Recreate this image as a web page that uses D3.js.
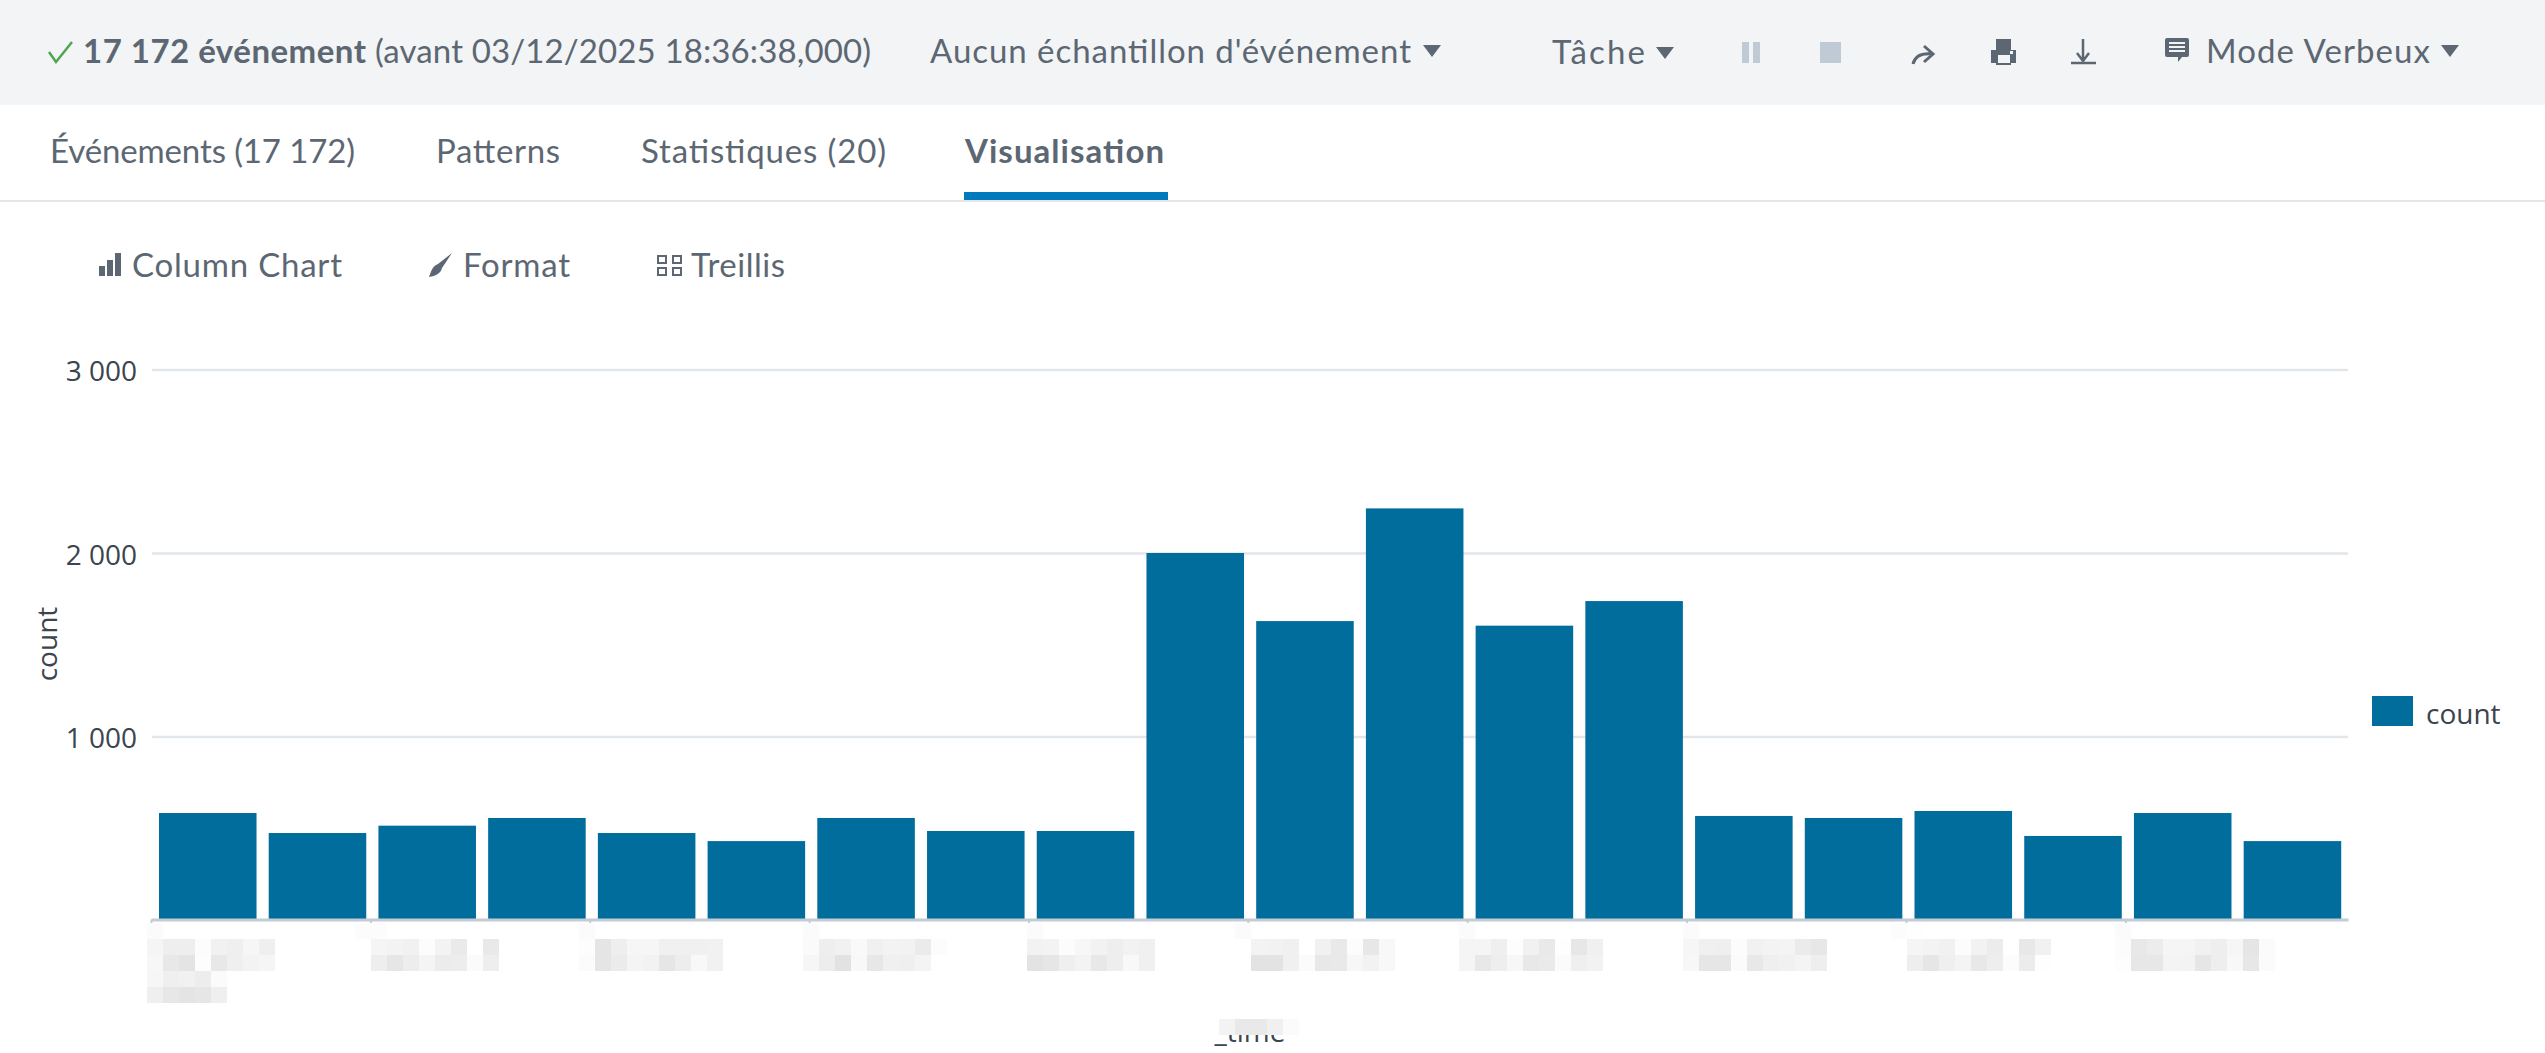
<!DOCTYPE html>
<html>
<head>
<meta charset="utf-8">
<script src="https://cdn.jsdelivr.net/npm/d3@7"></script>
<style>
  body { margin: 0; background: #fff; }
  svg { display: block; }
  .ui { font-family: Lato, sans-serif; font-size: 33px; fill: #5c6773; }
  .chart-text { font-family: "Open Sans", sans-serif; font-size: 28px; fill: #3c444d; }
</style>
</head>
<body>
<div id="chart-area"></div>
<script>
// values
const categories = d3.range(1, 21).map(d => "t" + d);
const counts = [583, 474, 514, 556, 474, 430, 556, 485, 485, 2000, 1629, 2243, 1604, 1738, 567, 556, 594, 458, 583, 430];
const yTicks = [1000, 2000, 3000];
const seriesName = "count";
const xTitle = "_time";

// the x labels are hidden by a pixel mosaic in the original: grey levels per label
const mosaicCols = [0, 13, 27, 41, 55, 68, 82, 96, 109, 123];
const mosaicRows = [
  [["fb"], ["f5","ee","ee","fc","f1","ef","f6","ef"], ["f7","e8","e4","fd","e8","ef","f3","f5"], ["f6","ef","f1","ed","fb"], ["ef","e7","e4","e6","ef"]],
  [["fc","fc"], ["ff","f5","f3","f1","fc","f3","ea","ff","e9"], ["ff","ee","e6","ed","f4","ec","ed","fb","ee"]],
  [["fb"], ["fd","e5","ee","f6","f6","f0","f0","f0","f1"], ["fb","e5","eb","f4","f2","e6","ed","f8","f1"]],
  [["fb"], ["fa","ee","f1","f9","f0","f3","f2","eb","fc"], ["f6","ed","e2","f8","e7","f0","ef","f4"]],
  [["fb"], ["f2","f3","fc","f7","f2","ee","f2","f0"], ["e3","e6","ef","f3","e8","ee","f8","f0"]],
  [["fb"], ["ff","f3","f2","f0","ff","f1","e9","fc","e7","f8"], ["ff","e3","e3","f0","fb","e8","e9","f7","f2","f8"]],
  [["fb"], ["f5","f5","ef","fd","f1","e9","fe","e7","f0"], ["f5","e8","ee","f7","e8","ea","fb","ef","f2"]],
  [["fb"], ["f6","f0","ef","fc","f1","f3","f4","eb","e7"], ["f7","e6","e6","fb","e8","ef","f1","f4","ee"]],
  [["fc","fe"], ["ff","f5","f3","f1","fc","f2","ec","ff","e8","f1"], ["ff","ee","e6","ef","f4","e8","ee","fc","ec","fe"]],
  [["fb"], ["fc","e8","ec","f5","f5","f1","ee","f6","e5","fb"], ["fd","e7","e7","f4","f3","e6","ee","f8","e7","fb"]]
];
const titleMosaic = ["f3", "e9", "e9", "f0", "fb"];

const svg = d3.select("#chart-area").append("svg")
    .attr("width", 2545)
    .attr("height", 1053);

// TOP BAR
svg.append("rect").attr("width", 2545).attr("height", 105).attr("fill", "#f2f4f5");
svg.append("rect").attr("y", 200).attr("width", 2545).attr("height", 2).attr("fill", "#e1e6eb");
svg.append("rect").attr("x", 964).attr("y", 192).attr("width", 204).attr("height", 8).attr("fill", "#007abd");

function label(txt, x, w, y, bold) {
    svg.append("text")
        .attr("class", "ui")
        .attr("x", x)
        .attr("y", y)
        .attr("textLength", w)
        .attr("font-weight", bold ? 700 : 400)
        .text(txt);
}
label("17 172 événement", 83, 283, 63, true);
label("(avant 03/12/2025 18:36:38,000)", 375, 496, 63);
label("Aucun échantillon d'événement", 930, 481, 63);
label("Tâche", 1552, 93, 64);
label("Mode Verbeux", 2206, 224, 63);
label("Événements (17 172)", 50, 305, 163);
label("Patterns", 436, 124, 163);
label("Statistiques (20)", 641, 245, 163);
label("Visualisation", 965, 199, 163, true);
label("Column Chart", 132, 210, 277);
label("Format", 463, 107, 277);
label("Treillis", 691, 94, 277);

// ICONS
const iconCol = "#5c6773";
const paleCol = "#c0cad4";
svg.append("path").attr("d", "M49,52 L56,62 L72,42").attr("fill", "none").attr("stroke", "#4ea64e").attr("stroke-width", 2.5);
[[1423, 45], [1656, 47], [2441, 45]].forEach(function(c) {
    svg.append("path").attr("d", `M${c[0]},${c[1]} h18 l-9,12 z`).attr("fill", iconCol);
});
svg.append("rect").attr("x", 1742).attr("y", 42).attr("width", 7).attr("height", 21).attr("fill", paleCol);
svg.append("rect").attr("x", 1753).attr("y", 42).attr("width", 7).attr("height", 21).attr("fill", paleCol);
svg.append("rect").attr("x", 1820).attr("y", 42).attr("width", 21).attr("height", 21).attr("fill", paleCol);
// share arrow
svg.append("path").attr("d", "M1913,64 C1915,56 1922,53 1932,54 M1924,46 L1933,54 L1924,62")
    .attr("fill", "none").attr("stroke", iconCol).attr("stroke-width", 3);
// printer
svg.append("path").attr("d", "M1996,39 h15 v11 h5 v13 h-5 v2 h-15 v-2 h-5 v-13 h5 z").attr("fill", iconCol);
svg.append("rect").attr("x", 1998).attr("y", 55).attr("width", 12).attr("height", 8).attr("fill", "#f2f4f5");
svg.append("rect").attr("x", 2010).attr("y", 51).attr("width", 3).attr("height", 3).attr("fill", "#f2f4f5");
// download
svg.append("path").attr("d", "M2083,39 V61 M2077,53 L2083,61 L2089,53 M2071,63 H2096")
    .attr("fill", "none").attr("stroke", iconCol).attr("stroke-width", 2.5);
// comment
svg.append("path").attr("d", "M2167,38 h20 a2,2 0 0 1 2,2 v15 a2,2 0 0 1 -2,2 h-5 l-4,5 v-5 h-11 a2,2 0 0 1 -2,-2 v-15 a2,2 0 0 1 2,-2 z").attr("fill", iconCol);
[43, 47, 51].forEach(function(y) {
    svg.append("rect").attr("x", 2169).attr("y", y - 1).attr("width", 16).attr("height", 2).attr("fill", "#f2f4f5");
});
// column chart icon
[[99, 266, 6], [107, 260, 6], [115, 253, 6]].forEach(function(b) {
    svg.append("rect").attr("x", b[0]).attr("y", b[1]).attr("width", b[2]).attr("height", 276 - b[1]).attr("fill", iconCol);
});
// brush
svg.append("path").attr("d", "M452,253 L442,268 C441,273 436,276 429,277 C431,272 432,266 438,264 Z").attr("fill", iconCol);
// trellis
[[657, 255], [672, 255], [657, 267], [672, 267]].forEach(function(c) {
    svg.append("rect").attr("x", c[0] + 1).attr("y", c[1] + 1).attr("width", 8).attr("height", 7)
        .attr("fill", "none").attr("stroke", iconCol).attr("stroke-width", 2);
});

// SCALES
const xScale = d3.scaleBand()
    .domain(categories)
    .range([152.9, 2347.3])
    .paddingInner(0.111)
    .paddingOuter(0.0555);

const yScale = d3.scaleLinear()
    .domain([0, 3000])
    .range([920, 369.5]);

// ticks sit at the start of every second column
const tickScale = d3.scaleLinear()
    .domain([0, 20.03])
    .range([151, 2348]);

const frLocale = d3.formatLocale({ decimal: ",", thousands: "\u00a0", grouping: [3], currency: ["", " €"] });

// Y AXIS + GRID
const yAxis = d3.axisLeft(yScale)
    .tickValues(yTicks)
    .tickFormat(frLocale.format(",d"))
    .tickSize(0)
    .tickPadding(15);

const yG = svg.append("g")
    .attr("transform", "translate(152,0)")
    .call(yAxis);
yG.select(".domain").remove();
yG.selectAll("text").attr("class", "chart-text").attr("font-family", null).attr("font-size", null).attr("dy", "0.4em");
yG.selectAll(".tick line")
    .attr("x2", 2196)
    .attr("stroke", "#e1e6eb")
    .attr("stroke-width", 2.5);

// BARS
svg.selectAll("rect.bar")
    .data(counts)
    .enter()
    .append("rect")
    .attr("class", "bar")
    .attr("x", (d, i) => xScale(categories[i]))
    .attr("y", d => yScale(d))
    .attr("width", xScale.bandwidth())
    .attr("height", d => yScale(0) - yScale(d))
    .attr("fill", "#006d9c");

// X AXIS
const xAxis = d3.axisBottom(tickScale)
    .tickValues(d3.range(0, 20, 2))
    .tickFormat("")
    .tickSize(4)
    .tickSizeOuter(0);

const xG = svg.append("g")
    .attr("transform", "translate(0,919.5)")
    .call(xAxis);
xG.select(".domain").attr("stroke", "#c3cbd4").attr("stroke-width", 3);
xG.selectAll(".tick line").attr("stroke", "#c3cbd4").attr("stroke-width", 2);

// X LABEL MOSAIC
const cell = 16;
mosaicRows.forEach(function(rows, i) {
    rows.forEach(function(row, r) {
        row.forEach(function(g, c) {
            svg.append("rect")
                .attr("x", 147 + (mosaicCols[i] + c) * cell)
                .attr("y", 923 + r * cell)
                .attr("width", cell)
                .attr("height", cell)
                .attr("fill", "#" + g + g + g);
        });
    });
});

// X TITLE (partly covered)
svg.append("text")
    .attr("class", "chart-text")
    .attr("x", 1250)
    .attr("y", 1042)
    .attr("text-anchor", "middle")
    .text(xTitle);
titleMosaic.forEach(function(g, c) {
    svg.append("rect")
        .attr("x", 1219 + c * cell)
        .attr("y", 1019)
        .attr("width", cell)
        .attr("height", cell)
        .attr("fill", "#" + g + g + g);
});
svg.append("rect").attr("x", 1199).attr("y", 1019).attr("width", 20).attr("height", 16).attr("fill", "#fff");

// Y TITLE
svg.append("text")
    .attr("class", "chart-text")
    .attr("transform", "translate(57,644) rotate(-90)")
    .attr("text-anchor", "middle")
    .text(seriesName);

// LEGEND
svg.append("rect").attr("x", 2372).attr("y", 696).attr("width", 41).attr("height", 30).attr("fill", "#006d9c");
svg.append("text").attr("class", "chart-text").attr("x", 2426).attr("y", 724).text(seriesName);
</script>
</body>
</html>
